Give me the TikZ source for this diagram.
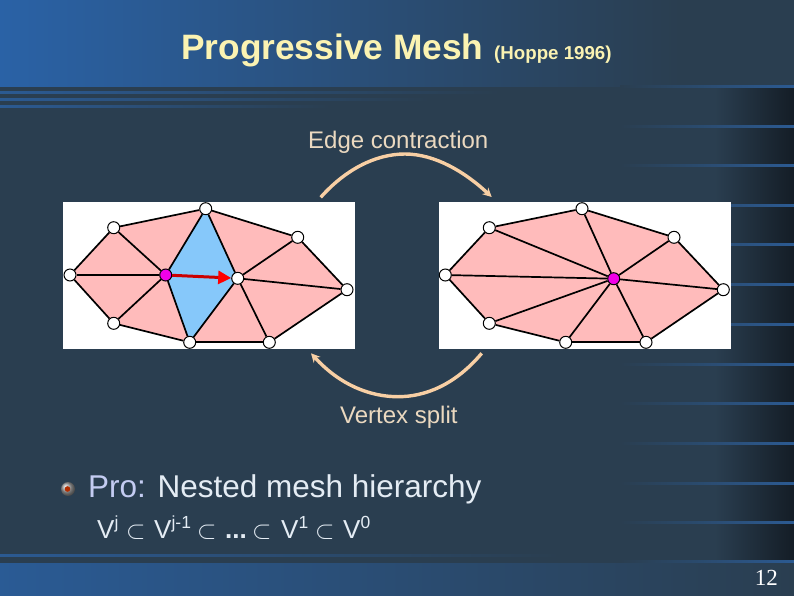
\documentclass[tikz,border=0pt]{standalone}
\usepackage{fontspec}
\usepackage{amsmath}
\setmainfont{Liberation Sans}
\newfontfamily\numfont{Liberation Serif}
\usetikzlibrary{arrows.meta}
\pgfdeclarelayer{back}
\pgfsetlayers{back,main}
\definecolor{slidebg}{HTML}{2A3E50}
\definecolor{slideblue}{HTML}{2A62A6}
\definecolor{stripeblue}{HTML}{2B5A92}
\definecolor{slidedark}{HTML}{141D26}
\definecolor{titlecol}{HTML}{FBF3B2}
\definecolor{arccol}{HTML}{F8CFA4}
\definecolor{labelcol}{HTML}{EBD9C0}
\definecolor{bodycol}{HTML}{E4ECF4}
\definecolor{procol}{HTML}{C4CCF2}
\definecolor{meshpink}{HTML}{FFBBBB}
\definecolor{meshblue}{HTML}{86C8FA}
\definecolor{meshmagenta}{HTML}{F000E8}
\newcommand{\chainsup}[1]{\raisebox{0.4em}{\fontsize{17.5}{18}\selectfont #1}}
\tikzset{
  meshvertex/.style={circle,draw=black,fill=white,line width=1pt,inner sep=0pt,minimum size=12pt},
  meshpurple/.style={meshvertex,fill=meshmagenta},
  meshedge/.style={black,line width=1.7pt},
  bendarrow/.style={arccol,line width=3.4pt,-{Stealth[length=9pt,width=9pt]}},
  caption/.style={inner sep=0pt,text=labelcol,anchor=base west,font=\fontsize{24}{26}\selectfont},
  chainterm/.style={anchor=base west,inner sep=0pt,text=bodycol,font=\fontsize{26}{28}\selectfont},
}
\begin{document}
\begin{tikzpicture}[x=1pt,y=-1pt]
  \useasboundingbox (0,0) rectangle (794,595);
  % left mesh
  \node[meshvertex] (t) at (205.7,208.7) {};
  \node[meshvertex] (ul) at (113.7,227.7) {};
  \node[meshvertex] (l) at (70,275) {};
  \node[meshvertex] (dl) at (113.7,323.3) {};
  \node[meshvertex] (b) at (189.7,342.3) {};
  \node[meshvertex] (br) at (269.3,342.3) {};
  \node[meshvertex] (r) at (347,289.7) {};
  \node[meshvertex] (ur) at (297.7,237.3) {};
  \node[meshpurple] (v) at (165.7,275) {};
  \node[meshvertex] (u) at (237.7,278.3) {};
  \draw[red!80!black,line width=3pt,-{Triangle[length=13pt,width=13pt,fill=red,color=red]}] (v) -- (u);
  % right mesh
  \node[meshvertex] (t2) at (582,208.7) {};
  \node[meshvertex] (ul2) at (489.3,227.7) {};
  \node[meshvertex] (l2) at (445.3,275) {};
  \node[meshvertex] (dl2) at (489.3,323.3) {};
  \node[meshvertex] (b2) at (565.7,342.3) {};
  \node[meshvertex] (br2) at (646,342.3) {};
  \node[meshvertex] (r2) at (723.3,289.7) {};
  \node[meshvertex] (ur2) at (674,237.3) {};
  \node[meshpurple] (c2) at (613.7,278.7) {};
  \begin{pgfonlayer}{back}
    % background
    \fill[slidebg] (0,0) rectangle (794,595);
    \shade[left color=slidebg,right color=slidedark] (715,86) rectangle (794,563);
    \shade[left color=slideblue,right color=slidebg] (0,0) rectangle (680,86);
    \fill[slidebg] (680,0) rectangle (794,86);
    \shade[left color=slideblue!80!slidebg,right color=slidebg] (0,563) rectangle (794,595);
    % stripes
    \foreach \y in {86.7,126,165.5,205,244.5,284,324,364,403.5,443.5,483,522.5,561.5}
      \shade[left color=slidebg,right color=stripeblue] (620,\y-1) rectangle (794,\y+1);
    \foreach \y/\x in {92.7/500,99.7/430,106.3/330,555.7/560}
      \shade[left color=stripeblue,right color=slidebg] (0,\y-1) rectangle (\x,\y+1);
    % mesh faces and edges
    \fill[white] (63,202) rectangle (355,349);
    \fill[meshpink] (t.center) -- (ul.center) -- (l.center) -- (dl.center) -- (b.center) -- (br.center) -- (r.center) -- (ur.center) -- cycle;
    \fill[meshblue] (t.center) -- (v.center) -- (b.center) -- (u.center) -- cycle;
    \foreach \a/\b in {t/ul,ul/l,l/dl,dl/b,b/br,br/r,r/ur,ur/t,v/ul,v/l,v/dl,v/b,v/t,u/t,u/ur,u/r,u/br,u/b}
      \draw[meshedge] (\a) -- (\b);
    \fill[white] (439,202) rectangle (731,349);
    \fill[meshpink] (t2.center) -- (ul2.center) -- (l2.center) -- (dl2.center) -- (b2.center) -- (br2.center) -- (r2.center) -- (ur2.center) -- cycle;
    \foreach \a/\b in {t2/ul2,ul2/l2,l2/dl2,dl2/b2,b2/br2,br2/r2,r2/ur2,ur2/t2,c2/t2,c2/ul2,c2/l2,c2/dl2,c2/b2,c2/br2,c2/r2,c2/ur2}
      \draw[meshedge] (\a) -- (\b);
  \end{pgfonlayer}
  % title
  \node[anchor=base west,inner sep=0pt,text=titlecol,font=\bfseries\fontsize{35.3}{38}\selectfont] (title) at (181,59) {Progressive Mesh};
  \node[anchor=base west,inner sep=0pt,text=titlecol,font=\bfseries\fontsize{18.7}{20}\selectfont] (cite) at (494,59) {(Hoppe 1996)};
  % arcs
  \node[caption] (contract) at (308,148) {Edge contraction};
  \node[caption] (split) at (340,423) {Vertex split};
  \coordinate (a1) at (320.7,197.3);
  \coordinate (a2) at (491.7,197);
  \coordinate (a3) at (481.7,353.3);
  \coordinate (a4) at (311,353.3);
  \draw[bendarrow] (a1) .. controls (345,170) and (375,154) .. (405,154) .. controls (435,154) and (465,172) .. (a2);
  \draw[bendarrow] (a3) .. controls (455,385) and (425,396.7) .. (398,396.7) .. controls (370,396.7) and (340,385) .. (a4);
  % body
  \shade[ball color=gray!70] (68,489) circle (7);
  \fill[orange!50!red!70!black] (67.5,489) circle (2.8);
  \node[anchor=base west,inner sep=0pt,text=bodycol,font=\fontsize{31.5}{34}\selectfont] (pro) at (88,497.5) {\textcolor{procol}{Pro:} Nested mesh hierarchy};
  \node[chainterm] (vj) at (97,538.5) {V\chainsup{j}};
  \node[chainterm] (s1) at (126,538.5) {$\subset$};
  \node[chainterm] (vj1) at (154,538.5) {V\chainsup{j-1}};
  \node[chainterm] (s2) at (197,538.5) {$\subset$};
  \node[chainterm] (dots) at (225,538.5) {\textbf{...}};
  \node[chainterm] (s3) at (252,538.5) {$\subset$};
  \node[chainterm] (v1) at (281,538.5) {V\chainsup{1}};
  \node[chainterm] (s4) at (315,538.5) {$\subset$};
  \node[chainterm] (v0) at (343,538.5) {V\chainsup{0}};
  \node[anchor=base east,inner sep=0pt,text=white,font=\numfont\fontsize{23}{26}\selectfont] (page) at (778,585) {12};
\end{tikzpicture}
\end{document}
